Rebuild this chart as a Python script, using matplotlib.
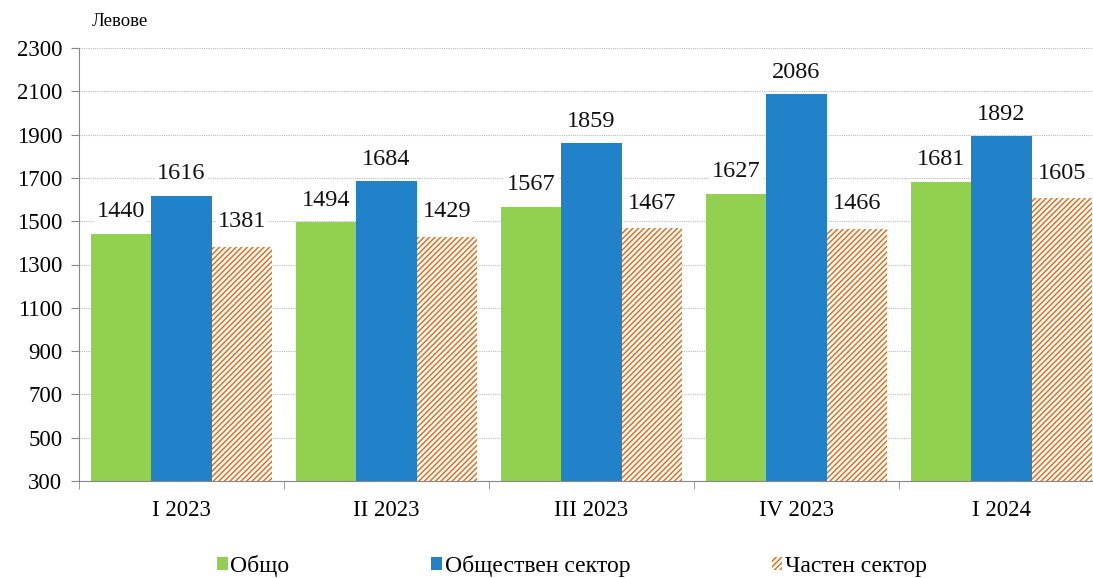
import matplotlib
matplotlib.use("Agg")
import matplotlib.pyplot as plt
import numpy as np

# Data
quarters = ["I 2023", "II 2023", "III 2023", "IV 2023", "I 2024"]
total = [1440, 1494, 1567, 1627, 1681]
public_sector = [1616, 1684, 1859, 2086, 1892]
private_sector = [1381, 1429, 1467, 1466, 1605]
series_names = ["Общо", "Обществен сектор", "Частен сектор"]
y_ticks = list(range(300, 2301, 200))

plt.rcParams['font.family'] = ['Liberation Serif', 'DejaVu Serif']
plt.rcParams['hatch.linewidth'] = 1.1

GREEN = "#92D050"
BLUE = "#2181C9"
ORANGE = "#E2701E"

fig = plt.figure(figsize=(10.93, 5.78), dpi=100)
ax = fig.add_axes([79 / 1093, 1 - 481 / 578, 1025 / 1093, (481 - 48) / 578])

x = np.arange(len(quarters))
w = 0.295

b1 = ax.bar(x - w, total, w, color=GREEN, label=series_names[0], zorder=2)
b2 = ax.bar(x, public_sector, w, color=BLUE, label=series_names[1], zorder=2)
b3 = ax.bar(x + w, private_sector, w, color="white", edgecolor=ORANGE,
            hatch="//////", linewidth=0, label=series_names[2], zorder=2)

for bars, vals, off in [(b1, total, 16), (b2, public_sector, 16), (b3, private_sector, 18)]:
    for b, v in zip(bars, vals):
        ax.annotate(str(v), (b.get_x() + b.get_width() / 2, v),
                    xytext=(0, off), textcoords="offset points",
                    ha="center", va="center", fontsize=17.5, color="#111111",
                    bbox=dict(facecolor="white", edgecolor="none", pad=1.5),
                    zorder=4)

ax.set_ylim(300, 2300)
ax.set_yticks(y_ticks)
ax.set_xlim(-0.5, len(quarters) - 0.5)
ax.set_xticks(x)
ax.set_xticklabels(quarters, fontsize=16.5)
ax.set_xticks(np.arange(-0.5, len(quarters), 1.0), minor=True)
ax.tick_params(axis="x", which="major", length=0, pad=14)
ax.tick_params(axis="x", which="minor", length=6, color="#888888")
ax.tick_params(axis="y", labelsize=16.5, length=6, color="#888888", pad=6)

ax.yaxis.grid(True, color="#BBBBBB", linestyle=(0, (1, 1)), linewidth=0.8, zorder=0)
ax.set_axisbelow(True)
for s in ["top", "right"]:
    ax.spines[s].set_visible(False)
ax.spines["left"].set_color("#888888")
ax.spines["bottom"].set_color("#888888")

fig.text(92 / 1093, 1 - 22 / 578, "Левове", fontsize=13.5, va="center", ha="left")

fig.legend(handles=[b1, b2, b3], labels=series_names, loc="center",
           bbox_to_anchor=(572 / 1093, 1 - 566 / 578), ncol=3, frameon=False,
           fontsize=17, handlelength=0.45, handleheight=0.45, handletextpad=0.12,
           columnspacing=6.0, borderpad=0.1)

fig.savefig("out.png", dpi=100)
